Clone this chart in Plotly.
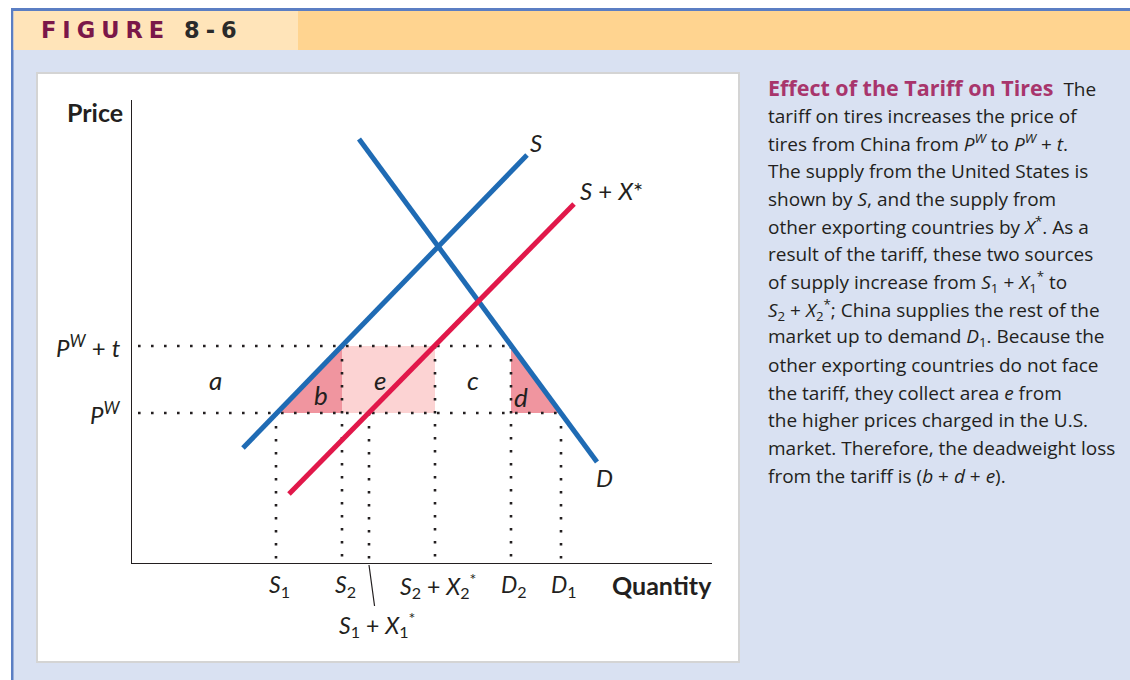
import plotly.graph_objects as go

W, H = 1130, 680

# ---------------- data ----------------
price_world = 15.0          # P^W
price_tariff = 21.7         # P^W + t

qty_values = [14.4, 21.0, 23.7, 30.3, 37.9, 42.9]
qty_keys = ["S1", "S2", "S1+X1*", "S2+X2*", "D2", "D1"]
qty_drop_from = [15.0, 21.7, 15.0, 21.7, 21.7, 15.0]   # price where each dotted drop starts

supply_q = [11.1, 39.5]
supply_p = [11.5, 40.8]
supply_x_q = [15.7, 44.2]
supply_x_p = [6.9, 35.9]
demand_q = [22.7, 46.5]
demand_p = [42.4, 10.1]

area_labels = ["a", "b", "e", "c", "d"]
area_q = [8.3, 18.9, 24.8, 34.1, 38.9]
area_p = [18.3, 16.8, 18.3, 18.3, 16.6]

q = dict(zip(qty_keys, qty_values))

# ---------------- styles ----------------
BLUE = "#1F6BB4"
RED = "#E1184A"
PINK_DARK = "#F0959F"
PINK_LIGHT = "#FCD3D3"
FONT = "Lato"
CAP_FONT = "Open Sans"
TXT = "#231F20"


def fx(p):
    return p / W


def fy(p):
    return 1 - p / H


fig = go.Figure()

# shaded areas
fig.add_trace(go.Scatter(x=[q["S1"], q["S2"], q["S2"], q["S1"]],
                         y=[price_world, price_tariff, price_world, price_world],
                         fill="toself", fillcolor=PINK_DARK, line=dict(width=0),
                         mode="lines", hoverinfo="skip", showlegend=False))
fig.add_trace(go.Scatter(x=[q["S2"], q["S2+X2*"], q["S2+X2*"], q["S2"], q["S2"]],
                         y=[price_world, price_world, price_tariff, price_tariff, price_world],
                         fill="toself", fillcolor=PINK_LIGHT, line=dict(width=0),
                         mode="lines", hoverinfo="skip", showlegend=False))
fig.add_trace(go.Scatter(x=[q["D2"], q["D2"], q["D1"], q["D2"]],
                         y=[price_tariff, price_world, price_world, price_tariff],
                         fill="toself", fillcolor=PINK_DARK, line=dict(width=0),
                         mode="lines", hoverinfo="skip", showlegend=False))

# dotted guide lines
dx, dy = [], []
dx += [0.6, q["D2"], None, 0.6, q["D1"], None]
dy += [price_tariff, price_tariff, None, price_world, price_world, None]
for qv, pv in zip(qty_values, qty_drop_from):
    dx += [qv, qv, None]
    dy += [pv, 0, None]
fig.add_trace(go.Scatter(x=dx, y=dy, mode="lines",
                         line=dict(color=TXT, width=2.6, dash="2.6px,10.4px"),
                         hoverinfo="skip", showlegend=False))

# curves
fig.add_trace(go.Scatter(x=supply_q, y=supply_p, mode="lines",
                         line=dict(color=BLUE, width=5), hoverinfo="skip", showlegend=False))
fig.add_trace(go.Scatter(x=demand_q, y=demand_p, mode="lines",
                         line=dict(color=BLUE, width=5), hoverinfo="skip", showlegend=False))
fig.add_trace(go.Scatter(x=supply_x_q, y=supply_x_p, mode="lines",
                         line=dict(color=RED, width=5), hoverinfo="skip", showlegend=False))

# ---------------- background decoration ----------------
shapes = [
    dict(type="rect", xref="paper", yref="paper", x0=fx(11), x1=1, y0=0, y1=fy(8),
         fillcolor="#5B7EC3", line=dict(width=0), layer="below"),
    dict(type="rect", xref="paper", yref="paper", x0=fx(13.5), x1=1, y0=0, y1=fy(11),
         fillcolor="#D9E1F2", line=dict(width=0), layer="below"),
    dict(type="rect", xref="paper", yref="paper", x0=fx(13.5), x1=fx(298), y0=fy(50), y1=fy(11),
         fillcolor="#FFE4B9", line=dict(width=0), layer="below"),
    dict(type="rect", xref="paper", yref="paper", x0=fx(298), x1=1, y0=fy(50), y1=fy(11),
         fillcolor="#FFD490", line=dict(width=0), layer="below"),
    dict(type="rect", xref="paper", yref="paper", x0=fx(36), x1=fx(740), y0=fy(663), y1=fy(72),
         fillcolor="#D4D4D4", line=dict(width=0), layer="below"),
    dict(type="rect", xref="paper", yref="paper", x0=fx(38), x1=fx(738), y0=fy(661), y1=fy(74),
         fillcolor="white", line=dict(width=0), layer="below"),
]

ann = []
# header
ann.append(dict(xref="paper", yref="paper", x=fx(39), y=fy(30.5), xanchor="left", yanchor="middle",
                showarrow=False,
                text="<span style='letter-spacing:6px'><b><span style='color:#7A1749'>FIGURE</span>"
                     " <span style='color:#2A2A2A'>8-6</span></b></span>",
                font=dict(family="DejaVu Sans", size=22.5)))

# axis titles
ann.append(dict(xref="paper", yref="paper", x=fx(125), y=fy(112), xanchor="right", yanchor="middle",
                showarrow=False, text="<b>Price</b>", font=dict(family=FONT, size=25, color=TXT)))
ann.append(dict(xref="paper", yref="paper", x=fx(610), y=fy(585), xanchor="left", yanchor="middle",
                showarrow=False, text="<b>Quantity</b>", font=dict(family=FONT, size=25, color=TXT)))

# price labels
ann.append(dict(xref="paper", yref="y", x=fx(123), y=price_tariff, xanchor="right", yanchor="middle",
                showarrow=False, text="<i>P</i><sup><i>W</i></sup> + <i>t</i>",
                font=dict(family=FONT, size=24, color=TXT)))
ann.append(dict(xref="paper", yref="y", x=fx(123), y=price_world, xanchor="right", yanchor="middle",
                showarrow=False, text="<i>P</i><sup><i>W</i></sup>",
                font=dict(family=FONT, size=24, color=TXT)))

# quantity labels
qty_text = {
    "S1": "<i>S</i><sub>1</sub>",
    "S2": "<i>S</i><sub>2</sub>",
    "S2+X2*": "<i>S</i><sub>2</sub> + <i>X</i><sub>2</sub><sup>*</sup>",
    "D2": "<i>D</i><sub>2</sub>",
    "D1": "<i>D</i><sub>1</sub>",
}
for k, t in qty_text.items():
    ann.append(dict(xref="x", yref="paper", x=q[k] + 0.3, y=fy(585), xanchor="center", yanchor="middle",
                    showarrow=False, text=t, font=dict(family=FONT, size=23, color=TXT)))
ann.append(dict(xref="x", yref="paper", x=q["S1+X1*"], y=fy(565), ax=8, ay=59,
                showarrow=True, arrowhead=0, arrowwidth=1.2, arrowcolor=TXT, standoff=0,
                text="<i>S</i><sub>1</sub> + <i>X</i><sub>1</sub><sup>*</sup>",
                font=dict(family=FONT, size=23, color=TXT)))

# curve labels
ann.append(dict(xref="x", yref="y", x=40.4, y=42.1, showarrow=False, text="<i>S</i>",
                font=dict(family=FONT, size=24, color=TXT)))
ann.append(dict(xref="x", yref="y", x=44.6, y=37.3, xanchor="left", showarrow=False,
                text="<i>S</i> + <i>X</i>*", font=dict(family=FONT, size=24, color=TXT)))
ann.append(dict(xref="x", yref="y", x=47.2, y=8.6, showarrow=False, text="<i>D</i>",
                font=dict(family=FONT, size=24, color=TXT)))

for lab, aq, ap in zip(area_labels, area_q, area_p):
    ann.append(dict(xref="x", yref="y", x=aq, y=ap, showarrow=False, text=f"<i>{lab}</i>",
                    font=dict(family=FONT, size=26, color=TXT)))

# caption paragraph
caption_lines = [
    "<b><span style='color:#A8356C;font-size:21.5px'>Effect of the Tariff on Tires</span></b>  The",
    "tariff on tires increases the price of",
    "tires from China from <i>P</i><sup><i>W</i></sup> to <i>P</i><sup><i>W</i></sup> + <i>t</i>.",
    "The supply from the United States is",
    "shown by <i>S</i>, and the supply from",
    "other exporting countries by <i>X</i><sup>*</sup>. As a",
    "result of the tariff, these two sources",
    "of supply increase from <i>S</i><sub>1</sub> + <i>X</i><sub>1</sub><sup>*</sup> to",
    "<i>S</i><sub>2</sub> + <i>X</i><sub>2</sub><sup>*</sup>; China supplies the rest of the",
    "market up to demand <i>D</i><sub>1</sub>. Because the",
    "other exporting countries do not face",
    "the tariff, they collect area <i>e</i> from",
    "the higher prices charged in the U.S.",
    "market. Therefore, the deadweight loss",
    "from the tariff is (<i>b</i> + <i>d</i> + <i>e</i>).",
]
for i, line in enumerate(caption_lines):
    ann.append(dict(xref="paper", yref="paper", x=fx(766), y=fy(88 + i * 27.7), xanchor="left",
                    yanchor="middle", showarrow=False, text=line,
                    font=dict(family=CAP_FONT, size=19, color=TXT)))

fig.update_layout(
    width=W, height=H, autosize=False,
    margin=dict(l=0, r=0, t=0, b=0),
    paper_bgcolor="white", plot_bgcolor="rgba(0,0,0,0)",
    shapes=shapes, annotations=ann, showlegend=False,
    xaxis=dict(domain=[fx(132), fx(712)], range=[0, 58], showline=True, linecolor=TXT, linewidth=1.4,
               showgrid=False, zeroline=False, showticklabels=False, ticks="", fixedrange=True),
    yaxis=dict(domain=[fy(563), fy(100)], range=[0, 46.3], showline=True, linecolor=TXT, linewidth=1.4,
               showgrid=False, zeroline=False, showticklabels=False, ticks="", fixedrange=True),
)

fig.write_html("out.html", config={"displayModeBar": False},
               post_script="document.body.style.margin='0px';")
